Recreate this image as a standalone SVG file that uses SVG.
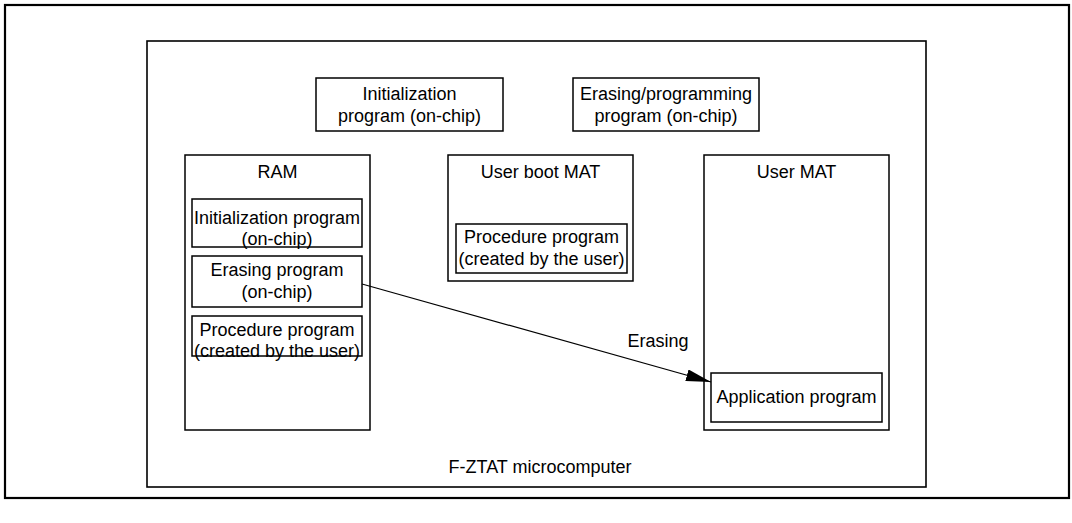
<svg xmlns="http://www.w3.org/2000/svg" width="1072" height="523" viewBox="0 0 1072 523">
<defs>
<style>
.box{fill:#fff;stroke:#000;stroke-width:1.5}
.t{font-family:"Liberation Sans",Arial,sans-serif;font-size:18px;fill:#000;text-anchor:middle}
.conn{stroke:#000;stroke-width:1.2;fill:none}
</style>
<marker id="ah" viewBox="0 0 25 12" refX="25" refY="6" markerWidth="25" markerHeight="12" markerUnits="userSpaceOnUse" orient="auto">
<path d="M0,0 L25,6 L0,12 Z" fill="#000"/>
</marker>
</defs>
<rect width="1072" height="523" fill="#fff"/>
<rect id="frame" x="5" y="5" width="1064" height="493" fill="none" stroke="#000" stroke-width="2.2"/>
<g id="fztat">
<rect x="147" y="41" width="779" height="446" fill="none" stroke="#000" stroke-width="1.6"/>
<text class="t" x="540" y="473">F-ZTAT microcomputer</text>
</g>
<g id="init-top">
<rect class="box" x="316" y="78" width="187" height="53"/>
<text class="t" x="409.5" y="100">Initialization</text>
<text class="t" x="409.5" y="122">program (on-chip)</text>
</g>
<g id="erase-prog-top">
<rect class="box" x="573" y="78" width="186" height="53"/>
<text class="t" x="666" y="100">Erasing/programming</text>
<text class="t" x="666" y="122">program (on-chip)</text>
</g>
<g id="ram">
<rect class="box" x="185" y="155" width="185" height="275"/>
<text class="t" x="277.5" y="178">RAM</text>
</g>
<g id="ram-init">
<rect class="box" x="192" y="199" width="170" height="48"/>
<text class="t" x="277" y="224">Initialization program</text>
<text class="t" x="277" y="245">(on-chip)</text>
</g>
<g id="ram-erase">
<rect class="box" x="192" y="256" width="170" height="51"/>
<text class="t" x="277" y="276">Erasing program</text>
<text class="t" x="277" y="298">(on-chip)</text>
</g>
<g id="ram-proc">
<rect class="box" x="192" y="316" width="170" height="40"/>
<text class="t" x="277" y="336">Procedure program</text>
<text class="t" x="277" y="357">(created by the user)</text>
</g>
<g id="userboot">
<rect class="box" x="448" y="155" width="185" height="126"/>
<text class="t" x="540.5" y="178">User boot MAT</text>
</g>
<g id="userboot-proc">
<rect class="box" x="456" y="224" width="171" height="49"/>
<text class="t" x="541.5" y="243">Procedure program</text>
<text class="t" x="541.5" y="265">(created by the user)</text>
</g>
<g id="usermat">
<rect class="box" x="704" y="155" width="185" height="275"/>
<text class="t" x="796.5" y="178">User MAT</text>
</g>
<g id="app">
<rect class="box" x="711" y="373" width="171" height="49"/>
<text class="t" x="796.5" y="403">Application program</text>
</g>
<g id="connectors">
<line class="conn" x1="362" y1="284" x2="711" y2="382" marker-end="url(#ah)"/>
<text class="t" x="658" y="347">Erasing</text>
</g>
</svg>
